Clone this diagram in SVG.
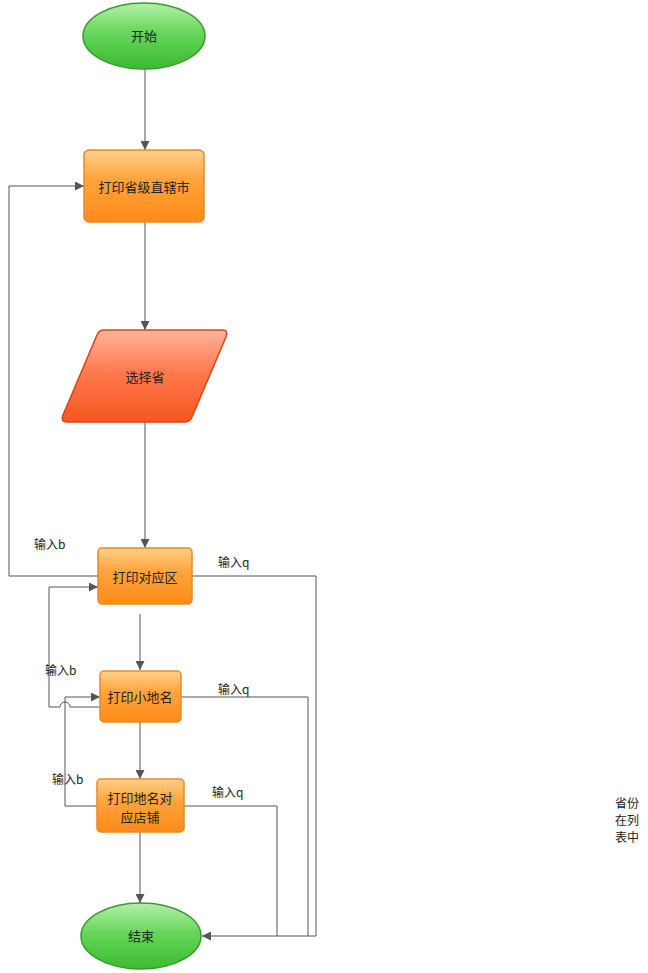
<svg xmlns="http://www.w3.org/2000/svg" width="648" height="973" viewBox="0 0 648 973">
<style>
text{font-family:"Noto Sans CJK SC","Liberation Sans",sans-serif;font-size:12px;fill:#222}
.c{text-anchor:middle;dominant-baseline:central;font-size:13px}
.ln{fill:none;stroke:#555;stroke-width:1}
.box{fill:url(#og);stroke:#e58a2e;stroke-width:1.5}
.ell{fill:url(#gg);stroke:#3a9a2e;stroke-width:1.5}
</style>
<defs>
<linearGradient id="gg" x1="0" y1="0" x2="0" y2="1">
<stop offset="0" stop-color="#b4f0a8"/><stop offset="0.45" stop-color="#66d65a"/><stop offset="1" stop-color="#3cbb30"/>
</linearGradient>
<linearGradient id="og" x1="0" y1="0" x2="0" y2="1">
<stop offset="0" stop-color="#ffd08a"/><stop offset="0.4" stop-color="#ffa53e"/><stop offset="1" stop-color="#ff8a18"/>
</linearGradient>
<linearGradient id="rg" x1="0" y1="0" x2="0" y2="1">
<stop offset="0" stop-color="#ffb49a"/><stop offset="0.45" stop-color="#ff7a4e"/><stop offset="1" stop-color="#f5561e"/>
</linearGradient>
<marker id="ar" viewBox="0 0 10 10" refX="10" refY="5" markerWidth="9" markerHeight="9" markerUnits="userSpaceOnUse" orient="auto">
<path d="M0,0 L10,5 L0,10 z" fill="#555"/>
</marker>
</defs>
<g id="connectors">
<path class="ln" d="M145,69 V150" marker-end="url(#ar)"/>
<path class="ln" d="M145,222 V330" marker-end="url(#ar)"/>
<path class="ln" d="M145,422 V548" marker-end="url(#ar)"/>
<path class="ln" d="M98,576 H9 V186 H84" marker-end="url(#ar)"/>
<path class="ln" d="M192,576 H316 V936 H202" marker-end="url(#ar)"/>
<path class="ln" d="M140,614 V670" marker-end="url(#ar)"/>
<path class="ln" d="M100,707 H70 A5,5 0 0 0 60,707 H49 V587 H98" marker-end="url(#ar)"/>
<path class="ln" d="M181,697 H308 V936"/>
<path class="ln" d="M97,806 H65 V697 H100" marker-end="url(#ar)"/>
<path class="ln" d="M140,722 V779" marker-end="url(#ar)"/>
<path class="ln" d="M184,806 H277 V936"/>
<path class="ln" d="M140,832 V903" marker-end="url(#ar)"/>
<text x="34" y="549">输入b</text>
<text x="218" y="567">输入q</text>
<text x="45" y="675">输入b</text>
<text x="218" y="694">输入q</text>
<text x="52" y="784">输入b</text>
<text x="212" y="797">输入q</text>
</g>
<g id="start">
<ellipse class="ell" cx="144" cy="36" rx="61" ry="33"/>
<text class="c" x="144" y="35">开始</text>
</g>
<g id="printProvince">
<rect class="box" x="84" y="150" width="120" height="72" rx="5"/>
<text class="c" x="144" y="186">打印省级直辖市</text>
</g>
<g id="chooseProvince">
<path d="M104,330 H222 Q229,330 226,337 L192,417 Q190,422 185,422 H67 Q60,422 63,415 L97,335 Q99,330 104,330 Z" fill="url(#rg)" stroke="#d9441a" stroke-width="1.5"/>
<text class="c" x="145" y="376">选择省</text>
</g>
<g id="printDistrict">
<rect class="box" x="98" y="548" width="94" height="56" rx="4"/>
<text class="c" x="145" y="576">打印对应区</text>
</g>
<g id="printPlace">
<rect class="box" x="100" y="671" width="81" height="51" rx="4"/>
<text class="c" x="140" y="696">打印小地名</text>
</g>
<g id="printShop">
<rect class="box" x="97" y="779" width="87" height="53" rx="4"/>
<text class="c" x="140" y="797">打印地名对</text>
<text class="c" x="140" y="816">应店铺</text>
</g>
<g id="end">
<ellipse class="ell" cx="141" cy="936" rx="60" ry="33"/>
<text class="c" x="141" y="935">结束</text>
</g>
<g id="note">
<text x="615" y="808">省份</text>
<text x="615" y="825">在列</text>
<text x="615" y="842">表中</text>
</g>
</svg>
